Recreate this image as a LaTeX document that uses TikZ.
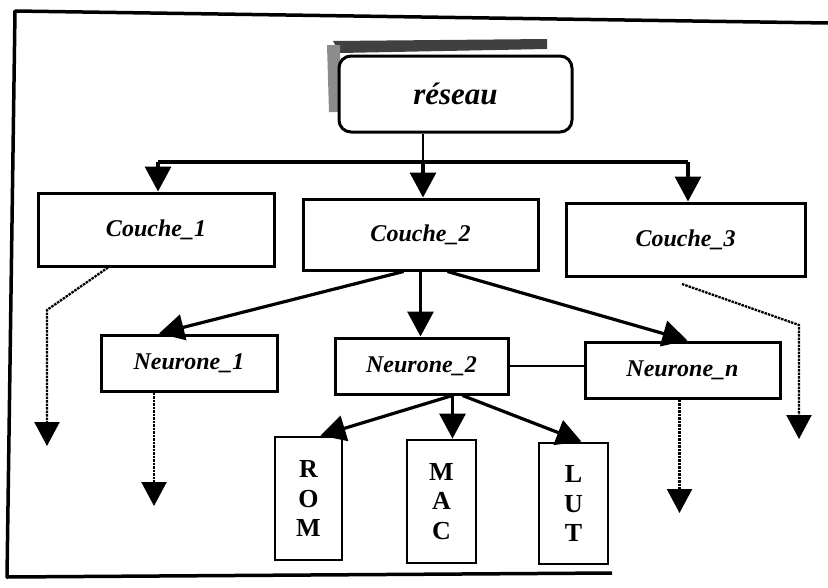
\documentclass[tikz,border=0pt]{standalone}
\usepackage{fontspec}
\setmainfont{Liberation Serif}
\usetikzlibrary{arrows.meta,calc}
\tikzset{
  box/.style={draw=black, line width=3pt, rectangle, inner sep=0pt, font=\fontsize{24}{27}\selectfont\bfseries\itshape},
  tall/.style={draw=black, line width=2.8pt, rectangle, inner sep=0pt, align=center, font=\fontsize{26}{29.5}\selectfont\bfseries},
  conn/.style={line width=3.2pt},
  arr/.style={line width=3.2pt, -{Triangle[width=26pt,length=25pt]}},
  dotarr/.style={line width=2.3pt, dash pattern=on 2.5pt off 1pt, -{Triangle[width=25pt,length=24pt,sep=0pt]}},
  thinline/.style={line width=1.5pt},
  frameline/.style={line width=3.5pt, line join=round}
}
\begin{document}
\begin{tikzpicture}[x=1pt,y=-1pt]
\useasboundingbox (0,0) rectangle (828,587);
% outer frame (open on the right)
\draw[frameline] (828,23) -- (15,11) -- (7,577) -- (612,573);
% scan shadow near the top box
\fill[black!75] (333,41) -- (547,39) -- (547,49) -- (340,53) -- cycle;
\fill[black!45] (327,45) -- (340,45) -- (340,112) -- (329,112) -- cycle;
% nodes
\node[box, rounded corners=12pt, fill=white, minimum width=233pt, minimum height=76pt, font=\fontsize{31}{34}\selectfont\bfseries\itshape] (res) at (455.5,94) {réseau};
\node[box, minimum width=236pt, minimum height=73pt] (c1) at (156,229.5) {Couche\_1};
\node[box, minimum width=235pt, minimum height=71pt] (c2) at (420.5,234.5) {Couche\_2};
\node[box, minimum width=239pt, minimum height=73pt] (c3) at (685.5,239.5) {Couche\_3};
\node[box, minimum width=176pt, minimum height=56pt] (n1) at (189,363) {Neurone\_1};
\node[box, minimum width=173pt, minimum height=56pt] (n2) at (421.5,366) {Neurone\_2};
\node[box, minimum width=195pt, minimum height=56pt] (nn) at (682.5,370) {Neurone\_n};
\node[tall, minimum width=67pt, minimum height=123pt] (rom) at (308.5,498.5) {R\\O\\M};
\node[tall, minimum width=69pt, minimum height=123pt] (mac) at (441.5,501.5) {M\\A\\C};
\node[tall, minimum width=69pt, minimum height=121pt] (lut) at (573.5,503.5) {L\\U\\T};
% réseau -> couches
\coordinate (j) at (423,162);
\coordinate (hl) at (158,162);
\coordinate (hr) at (688,162);
\draw[line width=1.8pt] (res.south -| j) -- (j);
\draw[conn] (hl) -- (hr);
\draw[arr] (hl) -- (hl |- c1.north);
\draw[arr] (j) -- (j |- c2.north);
\draw[arr] (hr) -- (hr |- c3.north);
% couche_2 -> neurones
\draw[arr] ([xshift=-17pt]c2.south) -- ([xshift=-30pt]n1.north);
\draw[arr] (c2.south) -- (c2.south |- n2.north);
\draw[arr] ([xshift=27pt]c2.south) -- ([xshift=5pt]nn.north);
\draw[thinline] (n2.east) -- (n2.east -| nn.west);
% neurone_2 -> ROM, MAC, LUT
\draw[arr] ([xshift=31pt]n2.south) -- ([xshift=12pt]rom.north);
\draw[arr] ([xshift=11pt]mac.north |- n2.south) -- ([xshift=11pt]mac.north);
\draw[arr] ([xshift=41pt]n2.south) -- ([xshift=8pt]lut.north);
% dotted continuations
\coordinate (bl) at (47,310);
\coordinate (el) at (47,446);
\draw[dotarr] ([xshift=-48pt]c1.south) -- (bl) -- (el);
\coordinate (e1) at (154,506);
\draw[dotarr] ([xshift=-35pt]n1.south) -- (e1);
\coordinate (en) at (679.5,513);
\draw[dotarr] ([xshift=-3pt]nn.south) -- (en);
\coordinate (sr) at (682,284);
\coordinate (br) at (799,325);
\coordinate (er) at (799,439);
\draw[dotarr] (sr) -- (br) -- (er);
\end{tikzpicture}
\end{document}
